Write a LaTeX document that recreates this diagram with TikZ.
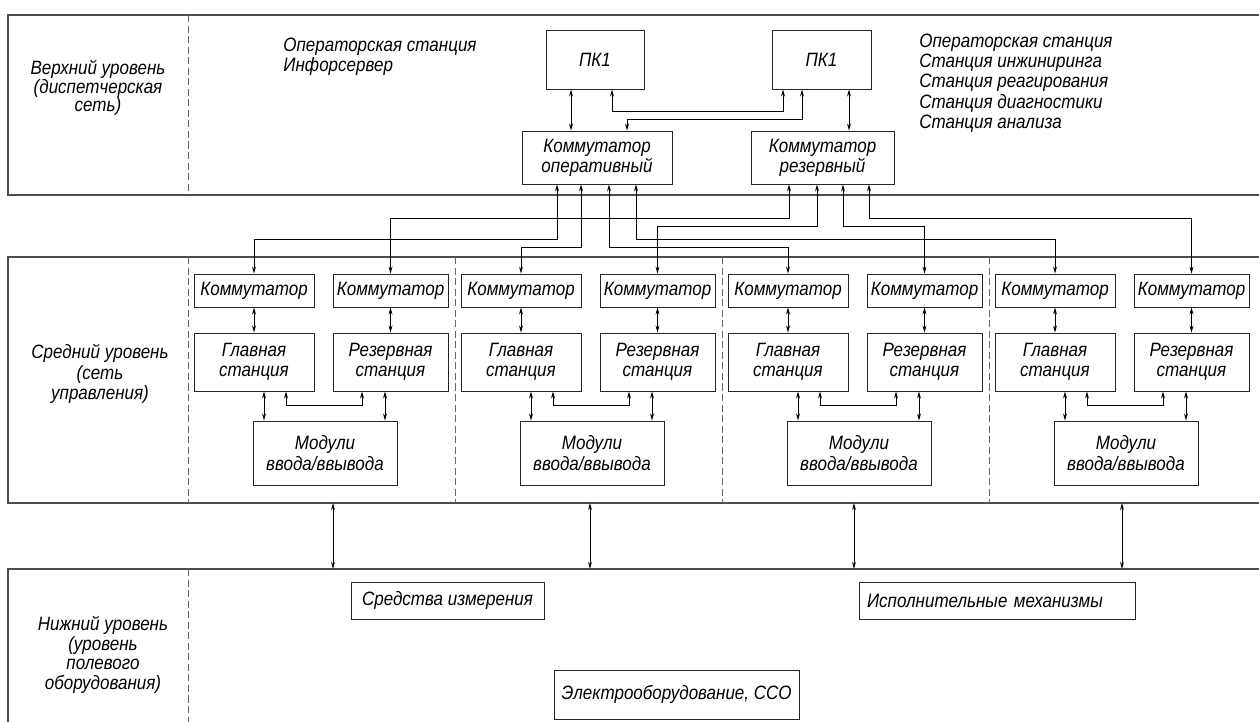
\documentclass[tikz,border=0pt]{standalone}
\usepackage{fontspec}
\setmainfont{Liberation Sans}[FakeStretch=0.88]
\usetikzlibrary{positioning, arrows.meta}

\tikzset{
    box/.style={draw=black!85, line width=0.5pt, inner sep=0pt, align=center,
        font=\itshape\fontsize{11}{11.5}\selectfont},
    band/.style={draw=black!70, line width=0.9pt},
    divider/.style={draw=black!60, line width=0.5pt, dash pattern=on 4pt off 2pt},
    link/.style={<->, line width=0.5pt},
    lbl/.style={align=center, inner sep=0pt},
    note/.style={align=left, inner sep=0pt, font=\itshape\fontsize{11}{11.5}\selectfont}
}

\begin{document}
\begin{tikzpicture}[x=0.02cm, y=-0.02cm, >={Stealth[length=4pt, width=2.2pt]}]
        \useasboundingbox (0,0) rectangle (1259,722);

        % levels
        \draw[band] (1259,15) -| (8,195) -- (1259,195);
        \draw[band] (1259,257) -| (8,503) -- (1259,503);
        \draw[band] (1259,569) -| (8,722);
        \draw[divider] (188,15) -- (188,195);
        \foreach \xd in {188,455,722,989}
            \draw[divider] (\xd,257) -- (\xd,503);
        \draw[divider] (188,569) -- (188,722);

        \node[lbl, font=\itshape\fontsize{11}{10.4}\selectfont] (upper) at (98,88) {Верхний уровень\\(диспетчерская\\сеть)};
        \node[lbl, font=\itshape\fontsize{11}{11.8}\selectfont] (middle) at (100,374) {Средний уровень\\(сеть\\управления)};
        \node[lbl, font=\itshape\fontsize{11}{11.2}\selectfont] (lower) at (103,655) {Нижний уровень\\(уровень\\полевого\\оборудования)};

        % upper level
        \node[note, anchor=west] (infoL) at (283,57) {Операторская станция\\Инфорсервер};
        \node[note, anchor=west] (infoR) at (919,83) {Операторская станция\\Станция инжиниринга\\Станция реагирования\\Станция диагностики\\Станция анализа};

        \node[box, minimum width=1.96cm, minimum height=1.18cm] (pc1) at (595,59.5) {ПК1};
        \node[box, minimum width=1.98cm, minimum height=1.18cm] (pc2) at (821.5,59.5) {ПК1};
        \node[box, minimum width=3.0cm, minimum height=1.06cm] (opsw) at (597,157.5) {Коммутатор\\оперативный};
        \node[box, minimum width=2.86cm, minimum height=1.06cm] (ressw) at (822.5,157.5) {Коммутатор\\резервный};

        \draw[link] (pc1.south -| 571,0) -- (opsw.north -| 571,0);
        \draw[link] (pc1.south -| 612,0) |- (783,111) -- (pc2.south -| 783,0);
        \draw[link] (opsw.north -| 627,0) |- (802,119) -- (pc2.south -| 802,0);
        \draw[link] (pc2.south -| 849,0) -- (ressw.north -| 849,0);

        % middle level, four groups
        \foreach \g in {0,...,3} {
            \pgfmathsetmacro\xo{188+267*\g}
            \pgfmathsetmacro\xa{\xo+76}
            \pgfmathsetmacro\xb{\xo+98}
            \pgfmathsetmacro\xc{\xo+174}
            \pgfmathsetmacro\xe{\xo+197}
            \node[box, minimum width=2.4cm, minimum height=0.66cm] (swL\g) at ({\xo+66},290.5) {Коммутатор};
            \node[box, minimum width=2.3cm, minimum height=0.66cm] (swR\g) at ({\xo+202.5},290.5) {Коммутатор};
            \node[box, minimum width=2.4cm, minimum height=1.16cm] (main\g) at ({\xo+66},362) {Главная\\станция};
            \node[box, minimum width=2.3cm, minimum height=1.16cm] (res\g) at ({\xo+202.5},362) {Резервная\\станция};
            \node[box, minimum width=2.88cm, minimum height=1.28cm] (io\g) at ({\xo+137},453) {Модули\\ввода/ввывода};

            \draw[link] (swL\g) -- (main\g);
            \draw[link] (swR\g) -- (res\g);
            \draw[link] (main\g.south -| \xa,0) -- (io\g.north -| \xa,0);
            \draw[link] (res\g.south -| \xe,0) -- (io\g.north -| \xe,0);
            \draw[link] (main\g.south -| \xb,0) -- (\xb,405) -| (res\g.south -| \xc,0);
        }

        \foreach \xs/\yh/\g in {557/239/0, 581/247/1, 609/247/2, 636/239/3}
            \draw[link] (opsw.south -| \xs,0) -- (\xs,\yh) -| (swL\g.north);
        \foreach \xs/\yh/\g in {789/218/0, 817/226/1, 843/226/2, 869/218/3}
            \draw[link] (ressw.south -| \xs,0) -- (\xs,\yh) -| (swR\g.north);

        % lower level
        \foreach \xs in {333,590,854,1122}
            \draw[link] (\xs,503) -- (\xs,569);

        \node[box, minimum width=3.86cm, minimum height=0.74cm] (meas) at (447.5,600.5) {Средства измерения};
        \node[box, minimum width=5.52cm, minimum height=0.74cm, text width=5.2cm, align=left] (act) at (997,600.5) {Исполнительные механизмы};
        \node[box, minimum width=4.9cm, minimum height=0.98cm] (elec) at (676.5,694.5) {Электрооборудование, ССО};
\end{tikzpicture}
\end{document}
